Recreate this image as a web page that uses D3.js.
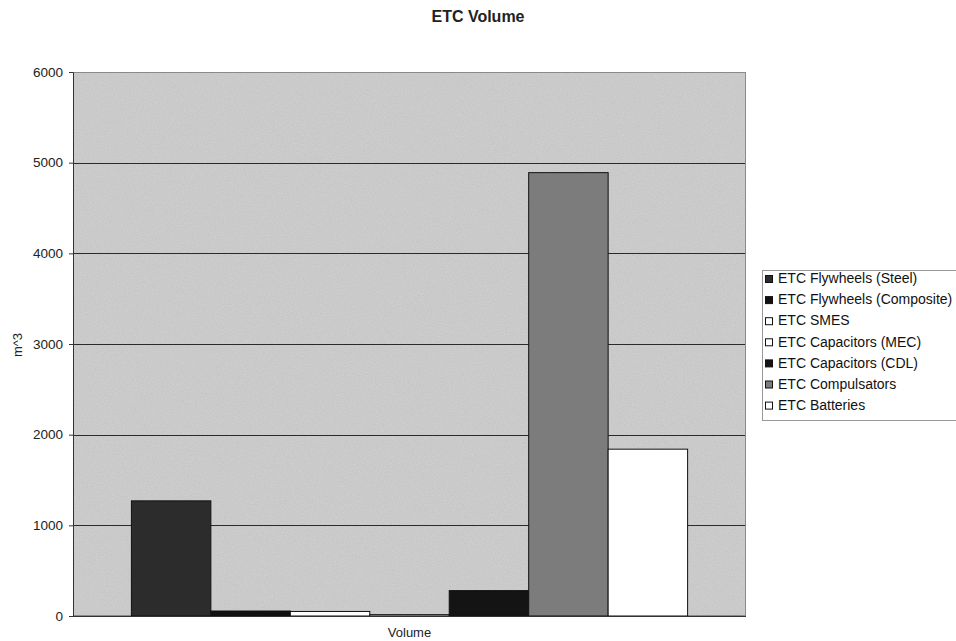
<!DOCTYPE html>
<html>
<head>
<meta charset="utf-8">
<script src="https://cdn.jsdelivr.net/npm/d3@7/dist/d3.min.js"></script>
<style>
  html, body { margin: 0; padding: 0; background: #fff; }
  svg { display: block; font-family: Arial, "Liberation Sans", sans-serif; }
</style>
</head>
<body>
<svg id="chart" width="956" height="641"></svg>
<script>
// ETC storage technologies, volume in cubic metres
const categories = ["Volume"];
const seriesNames = [
  "ETC Flywheels (Steel)",
  "ETC Flywheels (Composite)",
  "ETC SMES",
  "ETC Capacitors (MEC)",
  "ETC Capacitors (CDL)",
  "ETC Compulsators",
  "ETC Batteries"
];
const seriesValues = [1270, 55, 50, 15, 280, 4890, 1840];
const yTicks = [0, 1000, 2000, 3000, 4000, 5000, 6000];
const seriesFills = ["#2c2c2c", "#111111", "#ffffff", "#ffffff", "#141414", "#7c7c7c", "#ffffff"];

const svg = d3.select("#chart");
const plot = { left: 73, right: 746, top: 72, bottom: 616 };

// scales
const x0 = d3.scaleBand().domain(categories).range([plot.left, plot.right])
  .paddingInner(0).paddingOuter(0.105);
const x1 = d3.scaleBand().domain(seriesNames).range([0, x0.bandwidth()]).padding(0);
const y = d3.scaleLinear().domain([0, 6000]).range([plot.bottom, plot.top]);

// speckled texture for the plot area
const defs = svg.append("defs");
const f = defs.append("filter").attr("id", "grain").attr("x", 0).attr("y", 0)
  .attr("width", "100%").attr("height", "100%");
f.append("feTurbulence").attr("type", "fractalNoise").attr("baseFrequency", 0.9)
  .attr("numOctaves", 2).attr("seed", 3).attr("result", "noise");
f.append("feColorMatrix").attr("in", "noise").attr("type", "matrix")
  .attr("values", "0 0 0 0 0  0 0 0 0 0  0 0 0 0 0  0 0 0 0.18 0").attr("result", "dots");
f.append("feComposite").attr("in", "dots").attr("in2", "SourceGraphic").attr("operator", "in").attr("result", "d2");
f.append("feMerge").call(m => { m.append("feMergeNode").attr("in", "SourceGraphic"); m.append("feMergeNode").attr("in", "d2"); });

// plot area
svg.append("rect")
  .attr("x", plot.left).attr("y", plot.top)
  .attr("width", plot.right - plot.left).attr("height", plot.bottom - plot.top)
  .attr("fill", "#d3d3d3").attr("filter", "url(#grain)");

// gridlines
svg.append("g").selectAll("line").data(yTicks.filter(d => d > 0)).join("line")
  .attr("x1", plot.left).attr("x2", plot.right)
  .attr("y1", d => Math.round(y(d)) + 0.5).attr("y2", d => Math.round(y(d)) + 0.5)
  .attr("stroke", "#2a2a2a").attr("stroke-width", 1);

// plot border
svg.append("rect")
  .attr("x", plot.left + 0.5).attr("y", plot.top + 0.5)
  .attr("width", plot.right - plot.left - 1).attr("height", plot.bottom - plot.top - 1)
  .attr("fill", "none").attr("stroke", "#8a8a8a").attr("stroke-width", 1);

// bars
const g = svg.append("g").selectAll("g").data(categories).join("g")
  .attr("transform", d => `translate(${x0(d)},0)`);
g.selectAll("rect").data(seriesNames.map((s, i) => ({ s, v: seriesValues[i], i }))).join("rect")
  .attr("x", d => x1(d.s))
  .attr("y", d => y(d.v))
  .attr("width", x1.bandwidth())
  .attr("height", d => y(0) - y(d.v))
  .attr("fill", d => seriesFills[d.i])
  .attr("stroke", "#111").attr("stroke-width", 1);

// y axis
const yAxis = d3.axisLeft(y).tickValues(yTicks).tickSize(4).tickPadding(6).tickFormat(d3.format("d"));
const ya = svg.append("g").attr("transform", `translate(${plot.left},0)`).call(yAxis);
ya.select(".domain").attr("stroke", "#333");
ya.selectAll(".tick line").attr("stroke", "#333");
ya.selectAll(".tick text").attr("font-size", 13.5).attr("fill", "#222")
  .attr("font-family", "Arial, 'Liberation Sans', sans-serif");

// baseline
svg.append("line").attr("x1", plot.left).attr("x2", plot.right)
  .attr("y1", y(0) + 0.5).attr("y2", y(0) + 0.5).attr("stroke", "#333");

// titles
svg.append("text").attr("x", 478).attr("y", 21.5).attr("text-anchor", "middle")
  .attr("font-size", 16).attr("font-weight", "bold").attr("fill", "#222").text("ETC Volume");
svg.append("text").attr("transform", "translate(22,345) rotate(-90)").attr("text-anchor", "middle")
  .attr("font-size", 13).attr("fill", "#222").text("m^3");
svg.append("text").attr("x", (plot.left + plot.right) / 2).attr("y", 637).attr("text-anchor", "middle")
  .attr("font-size", 13).attr("fill", "#222").text("Volume");

// legend
const lg = svg.append("g");
lg.append("rect").attr("x", 762.5).attr("y", 270.5).attr("width", 200).attr("height", 150)
  .attr("fill", "#fff").attr("stroke", "#999").attr("stroke-width", 1);
const items = lg.selectAll("g.item").data(seriesNames).join("g").attr("class", "item")
  .attr("transform", (d, i) => `translate(765,${278 + i * 21.1})`);
items.append("rect").attr("x", 0.5).attr("y", -2.5).attr("width", 7).attr("height", 7)
  .attr("fill", (d, i) => seriesFills[i]).attr("stroke", "#111").attr("stroke-width", 1);
items.append("text").attr("x", 13).attr("y", 5.2).attr("font-size", 14).attr("fill", "#111").text(d => d);
</script>
</body>
</html>
